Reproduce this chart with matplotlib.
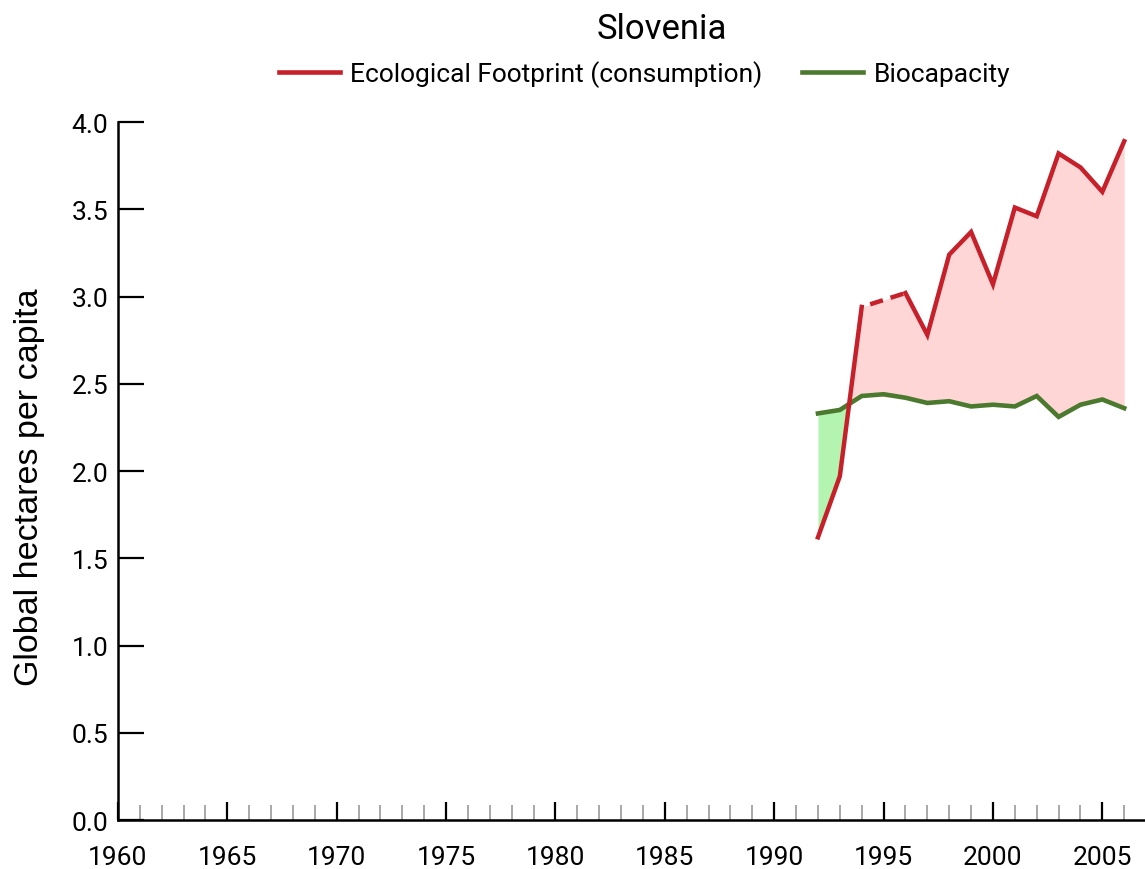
import numpy as np
import matplotlib
matplotlib.use("Agg")
import matplotlib.pyplot as plt
from matplotlib.ticker import MultipleLocator
from matplotlib.lines import Line2D

# values (gha per capita), 1995 footprint missing
years = [1992, 1993, 1994, 1995, 1996, 1997, 1998, 1999, 2000,
         2001, 2002, 2003, 2004, 2005, 2006]
footprint = [1.62, 1.97, 2.94, np.nan, 3.02, 2.78, 3.24, 3.37, 3.07,
             3.51, 3.46, 3.82, 3.74, 3.60, 3.89]
biocapacity = [2.33, 2.35, 2.43, 2.44, 2.42, 2.39, 2.40, 2.37, 2.38,
               2.37, 2.43, 2.31, 2.38, 2.41, 2.36]

RED = "#c6202a"
GREEN = "#4b7a2f"

years_a = np.array(years, dtype=float)
fp = np.array(footprint)
bc = np.array(biocapacity)
ok = ~np.isnan(fp)

fig = plt.figure(figsize=(11.45, 8.7), dpi=100)
ax = fig.add_axes([0.103, 0.0563, 0.897, 0.8023])

# shaded deficit / reserve between the two series
ax.fill_between(years_a[ok], fp[ok], bc[ok], where=fp[ok] >= bc[ok],
                interpolate=True, color="#ffd6d6", lw=0)
ax.fill_between(years_a[ok], fp[ok], bc[ok], where=fp[ok] < bc[ok],
                interpolate=True, color="#b3f5b0", lw=0)

ax.plot(years_a, bc, color=GREEN, lw=3.3, solid_joinstyle="miter")
ax.plot(years_a, fp, color=RED, lw=3.2, solid_joinstyle="miter")

# dashed bridge across the missing year
gap = np.where(~ok)[0][0]
ax.plot(years_a[[gap - 1, gap + 1]], fp[[gap - 1, gap + 1]], color=RED,
        lw=3.2, linestyle=(2.8, (3.0, 1.8)))

ax.set_xlim(1960, 2006.95)
ax.set_ylim(0, 4.0)

for s in ["top", "right"]:
    ax.spines[s].set_visible(False)
for s in ["left", "bottom"]:
    ax.spines[s].set_linewidth(1.8)

ax.xaxis.set_major_locator(MultipleLocator(5))
ax.xaxis.set_minor_locator(MultipleLocator(1))
ax.yaxis.set_major_locator(MultipleLocator(0.5))
ax.yaxis.set_major_formatter(matplotlib.ticker.FormatStrFormatter("%.1f"))

tick_font = "Roboto"
ax.tick_params(axis="x", which="major", direction="in", length=13,
               width=1.6, color="black", pad=18, labelsize=19)
ax.tick_params(axis="x", which="minor", direction="in", length=11,
               width=1.4, color="#a8a8a8")
ax.tick_params(axis="y", which="major", direction="in", length=19,
               width=1.6, color="black", pad=7, labelsize=19)
for lab in ax.get_xticklabels() + ax.get_yticklabels():
    lab.set_fontfamily(tick_font)

ax.set_ylabel("Global hectares per capita", fontsize=24.5,
              family="Liberation Sans")
ax.yaxis.set_label_coords(-0.071, 0.478)

fig.text(0.578, 0.966, "Slovenia", ha="center", va="center",
         fontsize=25, family="Roboto")

handles = [Line2D([], [], color=RED, lw=3.3),
           Line2D([], [], color=GREEN, lw=3.3)]
fig.legend(handles, ["Ecological Footprint (consumption)", "Biocapacity"],
           loc="center", bbox_to_anchor=(0.563, 0.914), ncol=2,
           frameon=False, prop={"family": "Roboto", "size": 19},
           handlelength=2.3, handletextpad=0.4, columnspacing=1.5)

fig.savefig("out.png", dpi=100)
